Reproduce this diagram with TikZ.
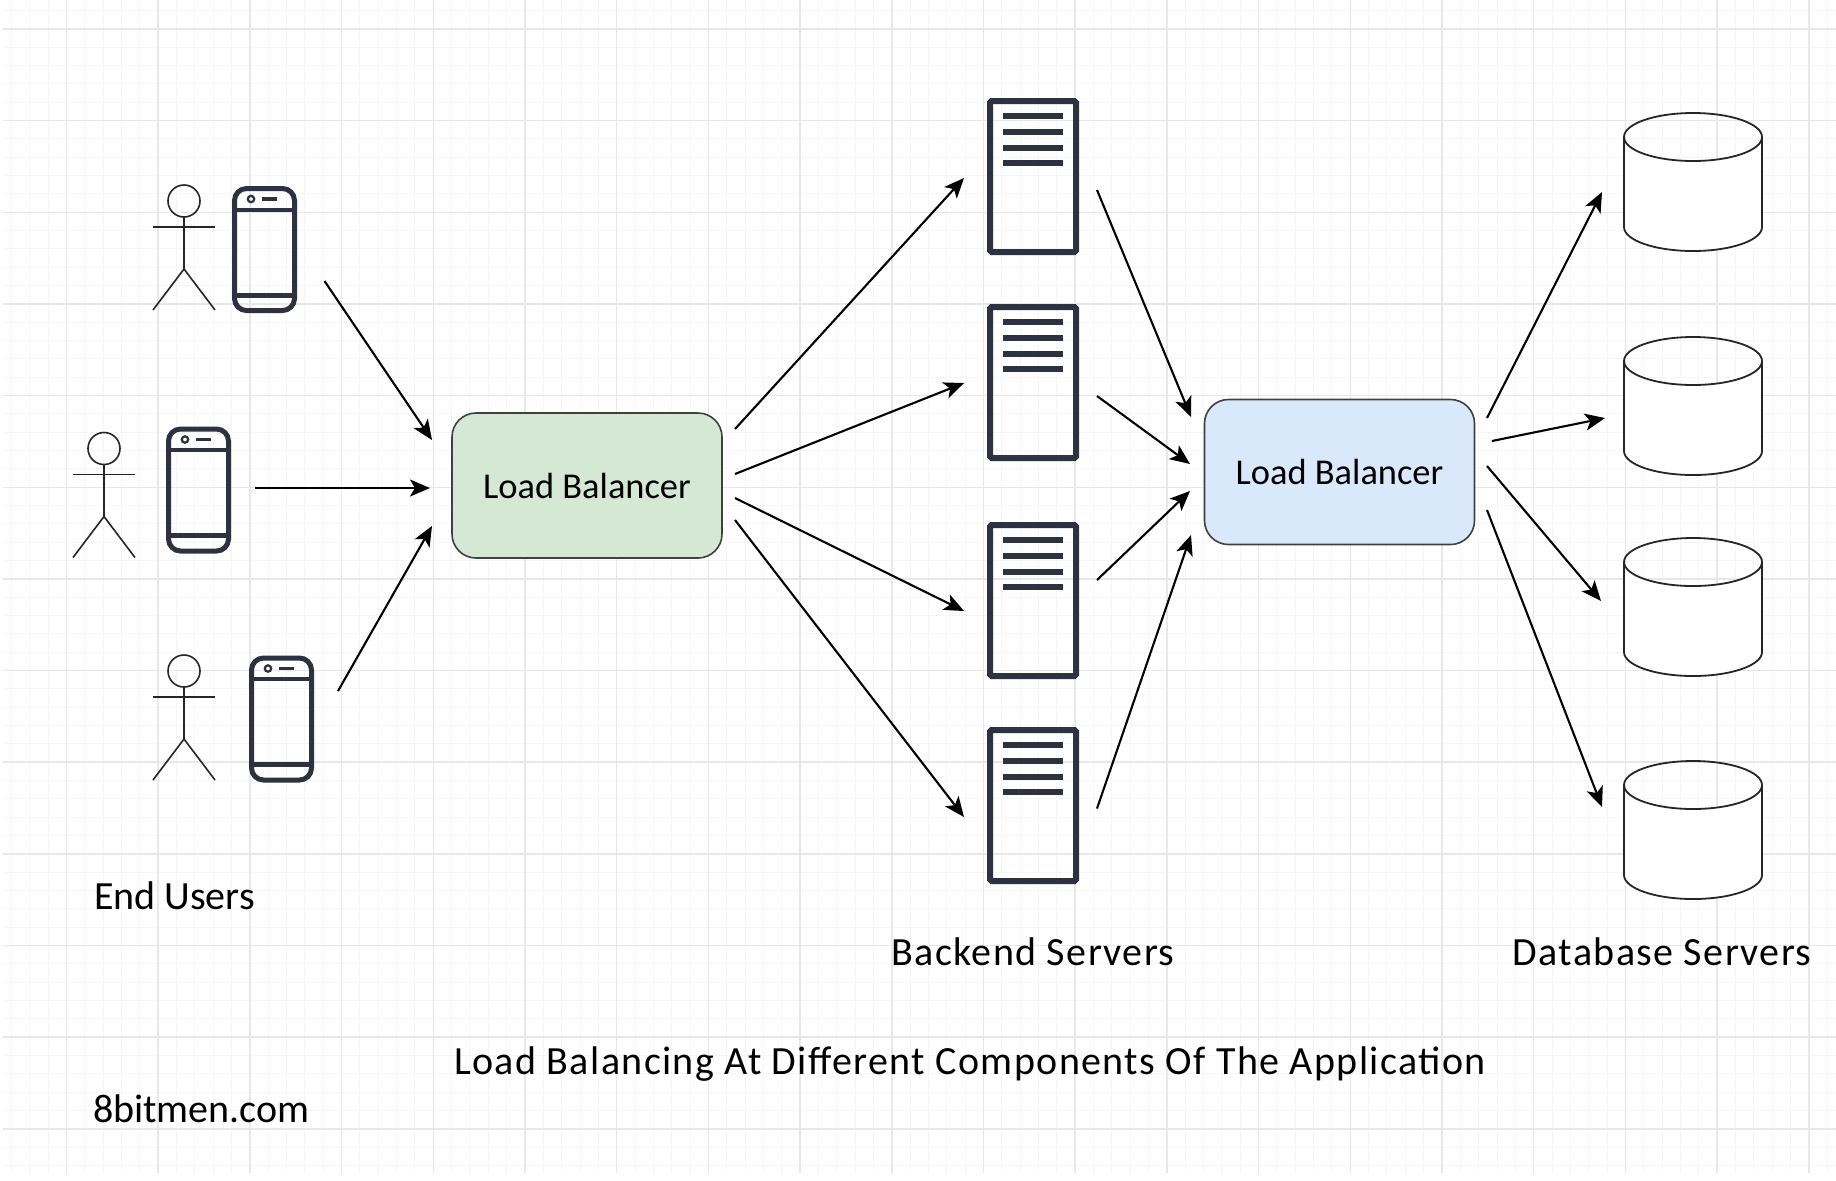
\documentclass[tikz,border=0pt]{standalone}
\usepackage{fontspec}
\setmainfont{Carlito}
\usetikzlibrary{arrows.meta}
\definecolor{gridmajor}{HTML}{E8E8E8}
\definecolor{gridminor}{HTML}{F6F6F6}
\definecolor{navy}{HTML}{2E3240}
\definecolor{lbgreen}{HTML}{D5E8D4}
\definecolor{lbblue}{HTML}{DAE8FC}
\newfontfamily\spacedfont[LetterSpace=3.5]{Carlito}
\tikzset{
  x=0.5pt,y=-0.5pt,
  minorgrid/.style={draw=gridminor,line width=0.5pt},
  majorgrid/.style={draw=gridmajor,line width=0.75pt},
  conn/.style={draw=black,line width=1.05pt,-{Stealth[length=10pt,width=8.5pt,inset=2.5pt]}},
  lbbox/.style={draw=black!75,line width=0.8pt,rounded corners=12pt,minimum width=135pt,minimum height=72.5pt,inner sep=0pt,outer sep=0pt},
  phonebox/.style={draw=navy,line width=2.5pt,rounded corners=6pt,minimum width=30pt,minimum height=61pt,inner sep=0pt,outer sep=0pt},
  serverbox/.style={draw=navy,line width=3pt,rounded corners=0.8pt,minimum width=43pt,minimum height=75.5pt,inner sep=0pt,outer sep=0pt},
  dbbox/.style={minimum width=69pt,minimum height=69pt,inner sep=0pt,outer sep=0pt},
  headc/.style={circle,draw=black!85,line width=0.8pt,minimum size=16pt,inner sep=0pt,outer sep=0pt},
  limb/.style={draw=black!85,line width=0.8pt},
  detail/.style={draw=navy,line width=2.5pt},
  dbline/.style={draw=black!85,line width=0.9pt},
  label/.style={font=\fontsize{20}{24}\selectfont,text=black,inner sep=0pt,outer sep=0pt},
  widelabel/.style={font=\spacedfont\fontsize{20}{24}\selectfont,text=black,inner sep=0pt,outer sep=0pt},
  lblabel/.style={font=\fontsize{18.2}{22}\selectfont,text=black},
}
\newcommand{\mkphone}[3]{%
  \node[phonebox] (#1) at (#2,#3) {};
  \draw[detail,line width=2pt] ([shift={(-30,-40)}]#1.center) -- ([shift={(30,-40)}]#1.center);
  \draw[detail,line width=2.5pt] ([shift={(-30,45.5)}]#1.center) -- ([shift={(30,45.5)}]#1.center);
  \draw[navy,line width=1.1pt] ([shift={(-13.5,-50.5)}]#1.center) circle (1.6pt);
  \draw[detail,line width=1.6pt] ([shift={(-2.5,-50.5)}]#1.center) -- ([shift={(12.5,-50.5)}]#1.center);
}
\newcommand{\mkserver}[3]{%
  \node[serverbox] (#1) at (#2,#3) {};
  \foreach \dy in {-60.5,-45,-29,-13.5}
    \draw[detail,line width=3pt] ([shift={(-30,\dy)}]#1.center) -- ([shift={(30,\dy)}]#1.center);
}
\newcommand{\mkactor}[3]{%
  \node[headc] (#1) at (#2,#3) {};
  \draw[limb] (#1.south) -- ([shift={(0,68)}]#1.center);
  \draw[limb] ([shift={(-31,26)}]#1.center) -- ([shift={(31,26)}]#1.center);
  \draw[limb] ([shift={(-31,109)}]#1.center) -- ([shift={(0,68)}]#1.center) -- ([shift={(31,109)}]#1.center);
}
\newcommand{\mkdb}[3]{%
  \node[dbbox] (#1) at (#2,#3) {};
  \fill[white,draw=black!85,line width=0.9pt]
    ([shift={(-69,-45)}]#1.center) arc[start angle=180,end angle=0,x radius=34.5pt,y radius=-12pt]
    -- ([shift={(69,45)}]#1.center) arc[start angle=0,end angle=180,x radius=34.5pt,y radius=-12pt] -- cycle;
  \draw[dbline] ([shift={(-69,-45)}]#1.center) arc[start angle=180,end angle=360,x radius=34.5pt,y radius=-12pt];
}
\begin{document}
\begin{tikzpicture}
\useasboundingbox (0,0) rectangle (1836,1180);
\fill[white] (0,0) rectangle (1836,1180);
% grid
\foreach \k in {-3,...,97}{\pgfmathsetmacro{\gx}{66.5+18.34*\k}\draw[minorgrid] (\gx,0) -- (\gx,1173);}
\foreach \k in {-11,...,52}{\pgfmathsetmacro{\gy}{212.3+18.33*\k}\draw[minorgrid] (3,\gy) -- (1836,\gy);}
\foreach \k in {0,...,19}{\pgfmathsetmacro{\gx}{66.5+91.7*\k}\draw[majorgrid] (\gx,0) -- (\gx,1173);}
\foreach \k in {-2,...,10}{\pgfmathsetmacro{\gy}{212.3+91.65*\k}\draw[majorgrid] (3,\gy) -- (1836,\gy);}
% users
\mkactor{actorA}{184}{201}
\mkactor{actorB}{104}{448.5}
\mkactor{actorC}{184}{671}
\mkphone{phoneA}{264.5}{249.5}
\mkphone{phoneB}{198.5}{490}
\mkphone{phoneC}{281.5}{719}
% load balancers
\node[lbbox,fill=lbgreen,lblabel] (lbA) at (587,485.5) {Load Balancer};
\node[lbbox,fill=lbblue,lblabel] (lbB) at (1339.5,472) {Load Balancer};
% servers
\mkserver{srvA}{1033}{176.5}
\mkserver{srvB}{1033}{382.5}
\mkserver{srvC}{1033}{600.5}
\mkserver{srvD}{1033}{805.5}
% databases
\mkdb{dbA}{1693}{182}
\mkdb{dbB}{1693}{406}
\mkdb{dbC}{1693}{607}
\mkdb{dbD}{1693}{830}
% connectors users -> lb
\draw[conn] ([shift={(60,31.5)}]phoneA.center) -- ([shift={(-155,-45.5)}]lbA.center);
\draw[conn] ([shift={(56.5,-2)}]phoneB.center) -- ([shift={(-157,2.5)}]lbA.center);
\draw[conn] ([shift={(56.5,-28)}]phoneC.center) -- ([shift={(-155,40.5)}]lbA.center);
% lb -> servers
\draw[conn] ([shift={(148,-56.5)}]lbA.center) -- ([shift={(-69,1.5)}]srvA.center);
\draw[conn] ([shift={(148,-11.5)}]lbA.center) -- ([shift={(-69,0.5)}]srvB.center);
\draw[conn] ([shift={(148,12.5)}]lbA.center) -- ([shift={(-69,10.5)}]srvC.center);
\draw[conn] ([shift={(148,34.5)}]lbA.center) -- ([shift={(-69,11.5)}]srvD.center);
% servers -> lb
\draw[conn] ([shift={(64,13.5)}]srvA.center) -- ([shift={(-148.5,-55)}]lbB.center);
\draw[conn] ([shift={(64,13.5)}]srvB.center) -- ([shift={(-149.5,-8)}]lbB.center);
\draw[conn] ([shift={(64,-20.5)}]srvC.center) -- ([shift={(-149.5,19)}]lbB.center);
\draw[conn] ([shift={(64,3)}]srvD.center) -- ([shift={(-148.5,63)}]lbB.center);
% lb -> databases
\draw[conn] ([shift={(147.5,-54)}]lbB.center) -- ([shift={(-91,10)}]dbA.center);
\draw[conn] ([shift={(152.5,-31)}]lbB.center) -- ([shift={(-88,12)}]dbB.center);
\draw[conn] ([shift={(147.5,-6)}]lbB.center) -- ([shift={(-92,-6)}]dbC.center);
\draw[conn] ([shift={(147.5,38)}]lbB.center) -- ([shift={(-91,-23)}]dbD.center);
% labels
\node[label,anchor=west] (lblUsers) at (94,896) {End Users};
\node[widelabel] (lblBackend) at (1033,952) {Backend Servers};
\node[widelabel] (lblDb) at (1662,952) {Database Servers};
\node[widelabel] (lblTitle) at (970,1064) {Load Balancing At Different Components Of The Application};
\node[label,anchor=west] (lblSite) at (93,1109) {8bitmen.com};
\end{tikzpicture}
\end{document}
